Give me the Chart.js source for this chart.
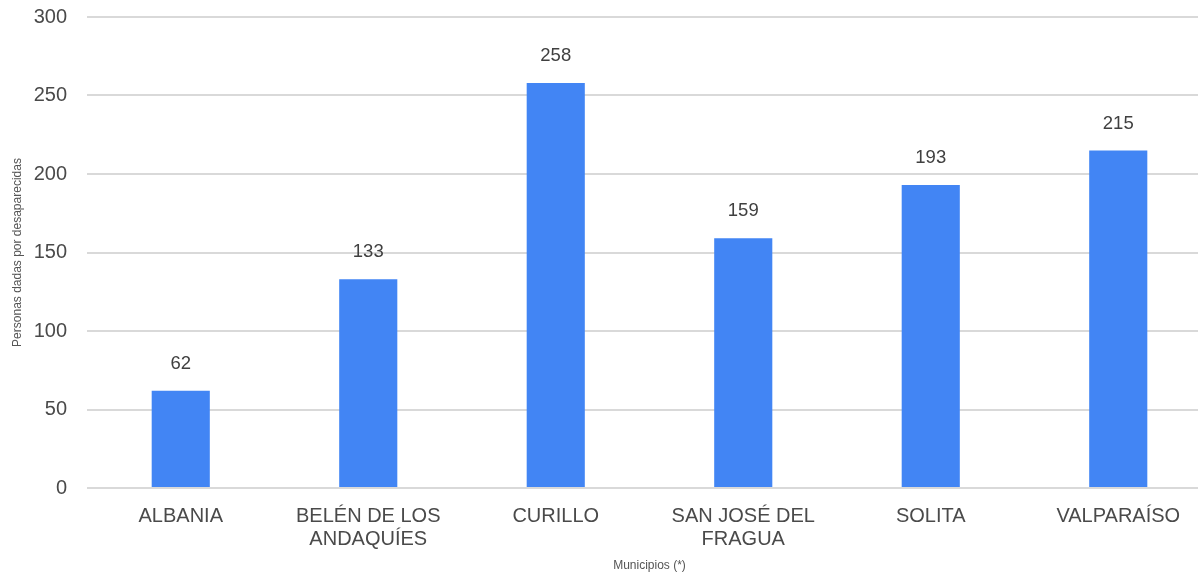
<!DOCTYPE html>
<html>
<head>
<meta charset="utf-8">
<script src="https://cdn.jsdelivr.net/npm/chart.js@4/dist/chart.umd.min.js"></script>
<style>
  html, body { margin: 0; padding: 0; background: #fff; overflow: hidden; }
  #wrap { position: relative; width: 1212px; height: 573px; }
</style>
</head>
<body>
<div id="wrap"><canvas id="municipiosChart"></canvas></div>
<script>
// Chart data
const municipios = [
  'ALBANIA',
  ['BELÉN DE LOS', 'ANDAQUÍES'],
  'CURILLO',
  ['SAN JOSÉ DEL', 'FRAGUA'],
  'SOLITA',
  'VALPARAÍSO'
];
const desaparecidas = [62, 133, 258, 159, 193, 215];
const yTicks = [0, 50, 100, 150, 200, 250, 300];

// Value labels above each bar
const valueLabels = {
  id: 'valueLabels',
  afterDatasetsDraw(chart) {
    const c = chart.ctx;
    const meta = chart.getDatasetMeta(0);
    c.save();
    c.font = '18.5px "Liberation Sans", Arial, sans-serif';
    c.fillStyle = '#404040';
    c.textAlign = 'center';
    c.textBaseline = 'middle';
    meta.data.forEach((bar, i) => {
      c.fillText(desaparecidas[i], bar.x, bar.y - 27);
    });
    c.restore();
  }
};

const ctx = document.getElementById('municipiosChart').getContext('2d');

new Chart(ctx, {
  type: 'bar',
  data: {
    labels: municipios,
    datasets: [{
      label: 'Personas dadas por desaparecidas',
      data: desaparecidas,
      backgroundColor: '#4285f4',
      categoryPercentage: 1,
      barPercentage: 0.31,
    }]
  },
  options: {
    responsive: true,
    maintainAspectRatio: false,
    animation: false,
    layout: { padding: { top: 17, left: 10, right: 0, bottom: 0 } },
    scales: {
      y: {
        min: 0,
        max: 300,
        afterBuildTicks: (axis) => { axis.ticks = yTicks.map(v => ({ value: v })); },
        afterFit: (axis) => {
          axis.width = 77;
          axis.paddingTop = 0;
          axis.paddingBottom = 0;
        },
        border: { display: false },
        grid: { color: '#d9d9d9', lineWidth: 2, drawTicks: false },
        ticks: {
          padding: 20,
          color: '#4a4a4a',
          font: { family: '"Liberation Sans", Arial, sans-serif', size: 20 }
        },
        title: {
          display: true,
          text: 'Personas dadas por desaparecidas',
          color: '#555',
          font: { family: '"Liberation Sans", Arial, sans-serif', size: 12 },
          padding: 0
        }
      },
      x: {
        afterFit: (axis) => { axis.height = 85; },
        border: { display: false },
        grid: { display: false },
        ticks: {
          padding: 9,
          color: '#4a4a4a',
          maxRotation: 0,
          font: { family: '"Liberation Sans", Arial, sans-serif', size: 20, lineHeight: 1.15 }
        },
        title: {
          display: true,
          text: 'Municipios (*)',
          color: '#555',
          font: { family: '"Liberation Sans", Arial, sans-serif', size: 12 },
          padding: 0
        }
      }
    },
    plugins: {
      legend: { display: false },
      tooltip: { enabled: false }
    }
  },
  plugins: [valueLabels]
});
</script>
</body>
</html>
